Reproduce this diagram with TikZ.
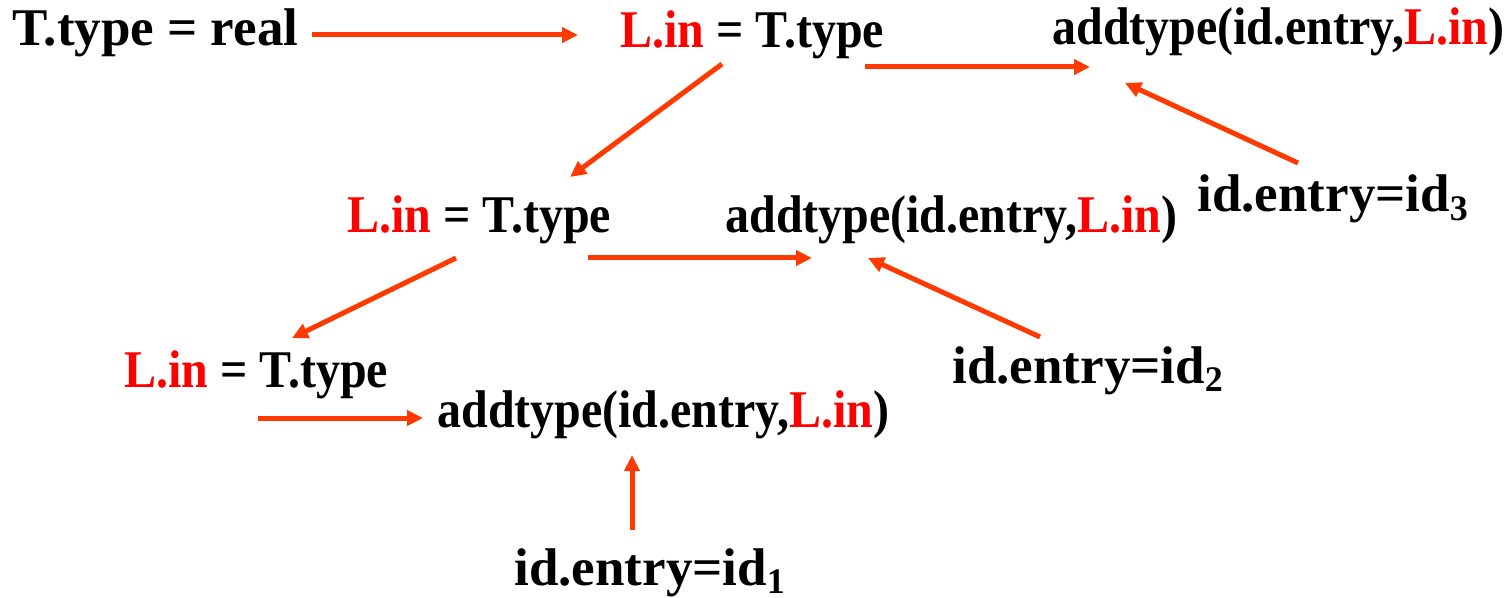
\documentclass[tikz,border=0pt]{standalone}
\usepackage{fontspec}
\usepackage{graphicx}
\setmainfont{Liberation Serif}
\usetikzlibrary{arrows.meta}
\definecolor{arrowred}{RGB}{255,58,0}
\newcommand{\Lin}{\textcolor{red}{L.in}}
\newcommand{\sub}[1]{\raisebox{-0.35ex}{\fontsize{18}{18}\selectfont #1}}
\newcommand{\narrow}[1]{\scalebox{0.905}[1]{#1}}
\begin{document}
\begin{tikzpicture}[x=0.5pt, y=-0.5pt,
		txt/.style={anchor=base west, inner sep=0, font=\fontsize{26.5}{32}\selectfont\bfseries},
		arr/.style={draw=arrowred, line width=2.5pt, -{Triangle[length=8pt, width=7.5pt]}}]
		\useasboundingbox (0, 0) rectangle (1508, 598);

		% top row
		\node[txt] (treal) at (12, 46) {T.type = real};
		\node[txt] (lin1) at (620, 48) {\narrow{\Lin{} = T.type}};
		\node[txt] (add1) at (1052, 45) {\narrow{addtype(id.entry,\Lin)}};
		\node[txt] (ent3) at (1197, 212) {id.entry=id\sub{3}};

		% middle row
		\node[txt] (lin2) at (347, 233) {\narrow{\Lin{} = T.type}};
		\node[txt] (add2) at (725, 233) {\narrow{addtype(id.entry,\Lin)}};
		\node[txt] (ent2) at (952, 383) {id.entry=id\sub{2}};

		% bottom row
		\node[txt] (lin3) at (124, 387) {\narrow{\Lin{} = T.type}};
		\node[txt] (add3) at (437, 427) {\narrow{addtype(id.entry,\Lin)}};
		\node[txt] (ent1) at (514, 585) {id.entry=id\sub{1}};

		\draw[arr] ([shift={(300, -11)}]treal.base west) -- ([shift={(-42, -13)}]lin1.base west);
		\draw[arr] ([shift={(245, 19)}]lin1.base west) -- ([shift={(38, 22)}]add1.base west);
		\draw[arr] ([shift={(101, -49)}]ent3.base west) -- ([shift={(73, 38)}]add1.base west);
		\draw[arr] ([shift={(102, 16)}]lin1.base west) -- ([shift={(223, -56)}]lin2.base west);

		\draw[arr] ([shift={(241, 25)}]lin2.base west) -- ([shift={(87, 25)}]add2.base west);
		\draw[arr] ([shift={(88, -46)}]ent2.base west) -- ([shift={(143, 25)}]add2.base west);
		\draw[arr] ([shift={(109, 25)}]lin2.base west) -- ([shift={(168, -49)}]lin3.base west);

		\draw[arr] ([shift={(134, 31)}]lin3.base west) -- ([shift={(-14, -9)}]add3.base west);
		\draw[arr] ([shift={(118, -55)}]ent1.base west) -- ([shift={(195, 28)}]add3.base west);
	\end{tikzpicture}
\end{document}
